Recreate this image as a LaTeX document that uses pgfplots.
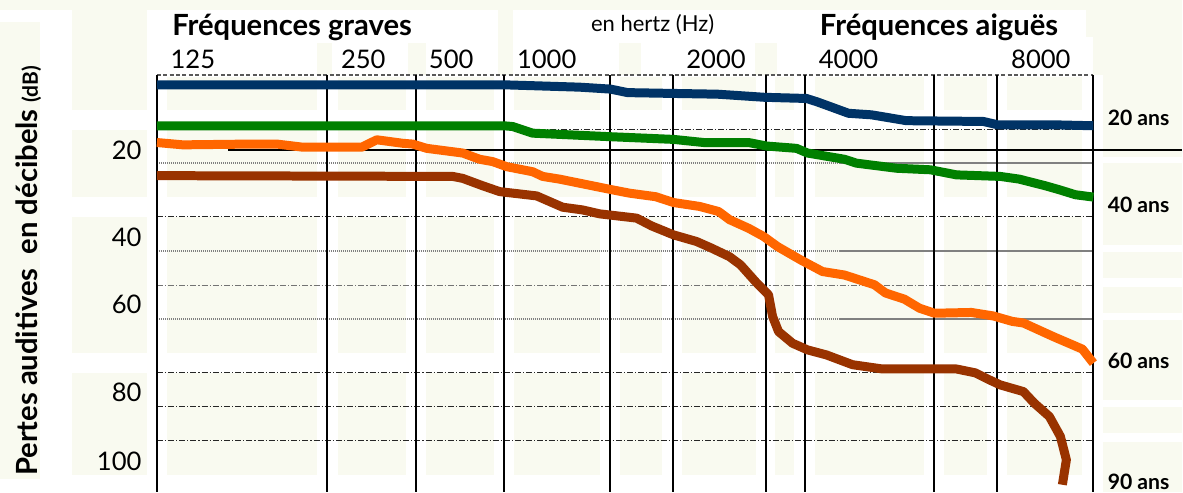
\documentclass[border=0pt]{standalone}
\usepackage{pgfplots}
\pgfplotsset{compat=1.18}
\usepackage{fontspec}
\setmainfont{Lato}
\definecolor{cream}{RGB}{249,250,240}
\definecolor{cblue}{RGB}{0,51,102}
\definecolor{cgreen}{RGB}{0,128,0}
\definecolor{corange}{RGB}{255,102,0}
\definecolor{cbrown}{RGB}{153,51,0}
\tikzset{dashdot/.style={black!85, line width=0.6pt, dash pattern=on 3pt off 1pt on 0.6pt off 1pt},
         dotgrey/.style={black!50, line width=1.1pt, dash pattern=on 0.6pt off 0.4pt}}
\begin{document}
\begin{tikzpicture}
\begin{scope}[x=0.5pt,y=-0.5pt]
\useasboundingbox (0,0) rectangle (1183,492);
\fill[cream] (0,0) rectangle (1183,492);
\fill[white] (0,10) rectangle (72,492);
\fill[cream] (0,22) rectangle (40,479);
\fill[white] (72,110) rectangle (147,130);
\fill[white] (72,197) rectangle (147,217);
\fill[white] (72,353) rectangle (147,373);
\fill[white] (72,475) rectangle (147,492);
\fill[white] (147,10) rectangle (498,75);
\fill[white] (513,10) rectangle (796,37);
\fill[white] (513,37) rectangle (1094,75);
\fill[white] (796,10) rectangle (1087,37);
\fill[cream] (317,43) rectangle (332,75);
\fill[cream] (408,43) rectangle (426,75);
\fill[cream] (619,43) rectangle (641,75);
\fill[cream] (755,43) rectangle (777,75);
\fill[white] (147,75) rectangle (1104,492);
\foreach \a/\b in {167/317,338/406,426/494,514/600,620/662,682/756,775/794,815/925,945/988,1008/1083}
  \foreach \c/\d in {77/110,130/197,217/353,373/475}
    \fill[cream] (\a,\c) rectangle (\b,\d);
\foreach \c/\d in {157/163,245/252,278/287,313/320,400/407,433/442}
  \fill[white] (1104,\c) rectangle (1183,\d);
\end{scope}
\begin{axis}[
  at={(78.5pt,-37.5pt)}, anchor=north west,
  scale only axis, width=468.5pt, height=208.5pt,
  xmin=157, xmax=1094, ymin=0.77, ymax=107.69, y dir=reverse,
  axis line style={draw=none}, major tick length=0pt,
  xtick={193,363.5,451.5,547,716.5,849,1041.5},
  xticklabels={125,250,500,1000,2000,4000,8000},
  xticklabel pos=upper,
  xticklabel style={anchor=base, inner sep=0pt, yshift=3.35pt, font=\fontsize{12.8}{14}\selectfont},
  ytick={20,42.31,59.74,82.31,100},
  yticklabels={20,40,60,80,100},
  yticklabel style={anchor=east, inner sep=0pt, xshift=-7.5pt, font=\fontsize{12.8}{14}\selectfont},
  /pgf/number format/assume math mode=true,
  clip=false,
]
% horizontal guide lines
\draw[gray!70!black, line width=0.6pt, dash pattern=on 2pt off 1.2pt] (axis cs:157,0.77) -- (axis cs:1094,0.77);
\draw[dashdot] (axis cs:517,14.69) -- (axis cs:1094,14.69);
\draw[dotgrey] (axis cs:157,23.41) -- (axis cs:1094,23.41);
\draw[dashdot] (axis cs:157,37.10) -- (axis cs:1094,37.10);
\draw[dotgrey] (axis cs:157,45.90) -- (axis cs:1094,45.90);
\draw[dashdot, black!55] (axis cs:157,54.69) -- (axis cs:1094,54.69);
\draw[dotgrey] (axis cs:157,63.41) -- (axis cs:1094,63.41);
\draw[dashdot] (axis cs:157,77.10) -- (axis cs:1094,77.10);
\draw[dashdot] (axis cs:157,85.82) -- (axis cs:1094,85.82);
\draw[dashdot] (axis cs:157,94.54) -- (axis cs:1094,94.54);
\draw[black, line width=0.7pt] (axis cs:228,20) -- (axis cs:1183,20);
% vertical grid
\pgfplotsinvokeforeach{157,327,416,504,610,673,766,805,935,998,1094}{
  \draw[black, line width=1pt] (axis cs:#1,0.77) -- (axis cs:#1,107.69);
}
% 20 ans
\addplot[cblue, line width=4.5pt, line join=round] coordinates {
(157,3.3) (505,3.3) (580,3.9) (611,4.4) (628,5.3) (672,5.5) (718,5.7) (765,6.5)
(807,6.8) (818,7.7) (849,10.6) (872,11.0) (907,12.5) (984,12.7) (999,13.6) (1061,13.6) (1094,13.8)};
% 40 ans
\addplot[cgreen, line width=4.5pt, line join=round] coordinates {
(157,13.8) (504,13.8) (513,14.0) (533,15.7) (610,16.6) (674,17.3) (704,18.1) (749,18.1)
(767,19.0) (797,19.6) (808,20.8) (845,22.4) (857,23.4) (897,24.7) (931,25.1) (957,26.4)
(1001,26.8) (1020,27.5) (1046,29.2) (1061,30.3) (1076,31.5) (1094,32.1)};
% 60 ans
\addplot[corange, line width=4.5pt, line join=round] coordinates {
(157,18.1) (183,18.7) (250,18.5) (277,18.5) (303,19.3) (362,19.3) (377,17.4) (403,18.3)
(413,18.5) (427,19.6) (463,20.8) (480,22.4) (493,23.0) (507,24.3) (533,25.6) (543,26.8)
(560,27.5) (610,30.1) (630,31.1) (656,32.0) (674,33.5) (700,34.5) (719,35.8) (730,37.9)
(749,40.1) (764,42.2) (778,44.8) (801,48.2) (823,51.2) (845,52.1) (875,54.6) (886,56.7)
(905,58.3) (920,60.6) (935,61.9) (972,61.7) (994,62.6) (1013,64.0) (1024,64.4) (1054,67.9)
(1083,71.1) (1094,74.7)};
% 90 ans
\addplot[cbrown, line width=4.5pt, line join=round] coordinates {
(157,26.6) (453,26.8) (463,27.3) (483,29.2) (500,30.7) (537,31.8) (563,34.7) (583,35.4)
(600,36.4) (637,37.5) (652,39.5) (674,41.8) (697,43.5) (712,45.2) (730,47.4) (741,49.5)
(756,53.8) (769,57.2) (773,62.7) (779,66.6) (793,69.6) (808,71.3) (827,72.6) (853,75.1)
(883,76.2) (957,76.2) (976,77.2) (990,79.0) (1001,80.3) (1024,82.0) (1035,85.0) (1050,88.4)
(1061,93.5) (1067,99.5) (1063,105.9)};
\end{axis}
\begin{scope}[x=0.5pt,y=-0.5pt]
\node[anchor=base west, inner sep=0pt, font=\bfseries\fontsize{14.6}{16}\selectfont] at (172,36) {Fréquences graves};
\node[anchor=base west, inner sep=0pt, font=\fontsize{11}{13}\selectfont] at (591,32) {en hertz (Hz)};
\node[anchor=base west, inner sep=0pt, font=\bfseries\fontsize{14.6}{16}\selectfont] at (820,36) {Fréquences aiguës};
\foreach \yy/\tt in {118/20 ans,205/40 ans,361/60 ans,482/90 ans}
  \node[anchor=west, inner sep=0pt, font=\bfseries\fontsize{10.6}{12}\selectfont] at (1108,\yy) {\tt};
\node[rotate=90, anchor=base, inner sep=0pt, font=\bfseries\fontsize{14.6}{16}\selectfont] at (38,271) {Pertes auditives\ \ en décibels {\fontsize{10.5}{12}\selectfont(dB)}};
\end{scope}
\end{tikzpicture}
\end{document}
